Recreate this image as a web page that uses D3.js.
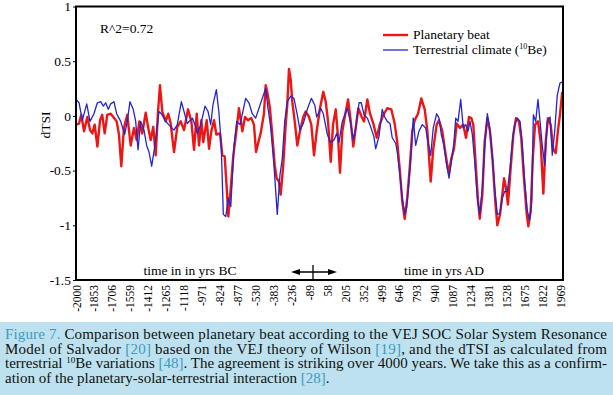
<!DOCTYPE html>
<html><head><meta charset="utf-8">
<script src="https://cdn.jsdelivr.net/npm/d3@7"></script>
<style>body{margin:0;background:#fff;overflow:hidden} svg{display:block}</style>
</head><body>
<svg id="c" width="613" height="395"></svg>
<script>
// ---- data ----
const redYears = [-2000,-1975,-1957,-1934,-1907,-1885,-1866,-1847,-1825,-1803,-1785,-1765,-1744,-1716,-1694,-1667,-1648,-1629,-1607,-1580,-1552,-1525,-1503,-1481,-1457,-1429,-1410,-1388,-1367,-1347,-1328,-1312,-1293,-1265,-1244,-1224,-1197,-1170,-1142,-1115,-1082,-1055,-1033,-1011,-992,-973,-957,-929,-910,-891,-869,-850,-820,-801,-782,-765,-752,-732,-711,-683,-665,-637,-615,-591,-564,-542,-525,-506,-487,-460,-446,-433,-411,-392,-372,-356,-337,-323,-302,-282,-269,-255,-241,-228,-208,-187,-165,-138,-118,-91,-72,-50,-28,-1,26,46,65,87,106,128,147,163,182,202,229,251,272,292,313,341,360,387,409,436,464,491,518,550,583,611,632,654,673,693,714,736,755,775,802,829,857,878,906,927,955,974,1001,1021,1042,1056,1075,1097,1119,1146,1173,1195,1220,1239,1255,1275,1294,1308,1329,1348,1370,1392,1414,1435,1452,1474,1493,1507,1523,1539,1561,1583,1605,1629,1648,1670,1693,1706,1725,1744,1761,1785,1807,1829,1848,1867,1889,1911,1930,1949,1965,1984];
const redValues = [-0.08,-0.07,0.01,-0.14,-0.01,-0.13,-0.16,-0.08,-0.28,-0.04,0.01,-0.16,0.01,0.02,-0.01,-0.05,-0.17,-0.46,-0.11,0.01,-0.27,-0.11,-0.22,-0.05,-0.16,0.03,-0.1,-0.22,-0.1,-0.36,0.04,0.28,0.04,-0.05,0.02,-0.07,-0.33,-0.1,-0.05,-0.13,0.06,-0.05,-0.31,0.02,-0.27,-0.04,-0.24,-0.04,-0.3,-0.14,-0.04,-0.17,-0.16,-0.36,-0.37,-0.66,-0.92,-0.66,-0.36,-0.11,0.07,-0.14,-0.01,-0.04,-0.02,-0.08,-0.33,-0.24,-0.16,0.02,0.28,0.22,0.07,-0.17,-0.45,-0.57,-0.6,-0.72,-0.45,-0.08,0.1,0.43,0.33,0.13,-0.05,-0.27,-0.14,-0.01,0.04,-0.01,-0.08,-0.36,-0.14,0.07,0.22,0.13,-0.05,-0.42,-0.08,0.06,-0.2,-0.52,-0.14,-0.01,0.15,-0.05,-0.28,-0.11,0.07,-0.01,-0.05,0.15,0.02,-0.07,-0.2,-0.07,0.01,0.07,0.06,-0.07,-0.24,-0.51,-0.78,-0.94,-0.75,-0.45,-0.14,-0.04,0.02,0.16,0.06,-0.13,-0.6,-0.3,-0.08,-0.04,-0.14,-0.3,-0.45,-0.52,-0.39,-0.3,-0.07,-0.11,-0.08,-0.2,-0.01,-0.02,-0.08,-0.45,-0.78,-0.94,-0.72,-0.24,-0.02,-0.14,-0.42,-0.78,-1.0,-0.9,-0.72,-0.57,-0.66,-0.81,-0.48,-0.17,-0.02,-0.05,-0.2,-0.57,-0.9,-1.01,-0.87,-0.36,-0.08,-0.05,-0.24,-0.71,-0.24,-0.02,-0.08,-0.31,-0.34,-0.13,0.01,0.22];
const blueYears = [-2000,-1975,-1948,-1912,-1885,-1853,-1825,-1798,-1776,-1757,-1735,-1716,-1689,-1667,-1634,-1601,-1580,-1558,-1531,-1511,-1492,-1470,-1443,-1421,-1402,-1380,-1353,-1320,-1301,-1265,-1224,-1197,-1170,-1137,-1115,-1088,-1047,-1019,-1006,-978,-943,-918,-896,-878,-850,-828,-810,-793,-773,-752,-732,-705,-683,-656,-629,-610,-583,-556,-528,-501,-474,-446,-427,-405,-378,-351,-329,-310,-290,-269,-241,-214,-187,-165,-138,-105,-72,-44,-28,5,26,59,87,114,136,155,182,223,251,272,292,319,337,360,387,414,441,455,482,509,529,550,573,591,619,632,654,673,693,709,728,747,763,783,810,837,865,884,906,927,955,974,993,1015,1037,1056,1075,1097,1111,1130,1152,1173,1193,1212,1228,1247,1267,1288,1308,1329,1351,1370,1389,1411,1430,1452,1474,1493,1512,1534,1556,1575,1594,1616,1638,1657,1676,1698,1717,1734,1747,1766,1785,1802,1820,1840,1861,1884,1902,1922,1943,1965,1984];
const blueValues = [0.15,0.12,-0.04,0.11,-0.05,0.02,0.12,0.13,0.09,0.12,0.06,0.11,0.13,0.02,-0.05,-0.17,-0.05,0.13,0.06,-0.05,-0.31,-0.05,-0.13,-0.27,-0.33,-0.46,-0.27,0.04,0.02,-0.05,-0.1,-0.13,-0.08,0.13,0.04,-0.07,-0.02,-0.1,-0.16,-0.08,0.09,0.04,-0.08,0.1,0.24,0.02,-0.27,-0.9,-0.92,-0.75,-0.83,-0.27,-0.05,-0.08,0.06,0.16,0.12,0.02,-0.02,0.07,0.16,0.25,0.07,-0.1,-0.45,-0.9,-0.54,-0.39,-0.05,0.13,0.18,0.16,0.01,-0.13,-0.07,0.06,0.16,0.1,-0.01,0.07,0.02,-0.17,-0.24,-0.22,-0.16,-0.24,-0.05,0.07,-0.07,-0.22,-0.11,0.12,0.12,0.01,-0.02,-0.1,-0.19,-0.3,-0.19,0.06,-0.01,-0.05,-0.07,-0.2,-0.25,-0.33,-0.54,-0.75,-0.9,-0.84,-0.6,-0.33,-0.02,-0.27,-0.14,-0.08,-0.11,-0.24,-0.36,-0.11,0.02,-0.02,-0.17,-0.27,-0.45,-0.57,-0.42,-0.24,-0.02,-0.05,0.15,-0.11,-0.08,-0.14,-0.05,-0.17,-0.42,-0.75,-0.9,-0.66,-0.24,0.02,-0.11,-0.36,-0.66,-0.9,-0.89,-0.75,-0.69,-0.69,-0.48,-0.24,-0.08,-0.02,-0.05,-0.27,-0.6,-0.87,-0.95,-0.78,0.01,-0.05,0.15,-0.05,-0.27,-0.45,-0.05,-0.01,-0.36,-0.14,0.19,0.3,0.31];
const tickYears = [-2000,-1853,-1706,-1559,-1412,-1265,-1118,-971,-824,-677,-530,-383,-236,-89,58,205,352,499,646,793,940,1087,1234,1381,1528,1675,1822,1969];
const tickLabels = ["-2000","-1853","-1706","-1559","-1412","-1265","-1118","-971","-824","-877","-530","-383","-236","-89","58","205","352","499","646","793","940","1087","1234","1381","1528","1675","1822","1969"];
const yTicks = [1,0.5,0,-0.5,-1,-1.5];
const yTickLabels = ["1","0.5","0","-0.5","-1","-1.5"];
const seriesNames = ["Planetary beat","Terrestrial climate ("];

// ---- chart ----
const FONT = "'Liberation Serif','Times New Roman',serif";
const svg = d3.select("#c");
const L = 76, R = 563, T = 6.5, B = 280;
const x = d3.scaleLinear().domain([-2000, 1990]).range([L, R]);
const y = d3.scaleLinear().domain([-1.5, 1]).range([B, T]);

const line = d3.line().x(d => x(d[0])).y(d => y(d[1]));
const red = d3.zip(redYears, redValues);
const blue = d3.zip(blueYears, blueValues);

svg.append("path").datum(red).attr("d", line)
  .attr("fill","none").attr("stroke","#ee1515").attr("stroke-width",2.4).attr("stroke-linejoin","round");
svg.append("path").datum(blue).attr("d", line)
  .attr("fill","none").attr("stroke","#2424d0").attr("stroke-width",1.3).attr("stroke-linejoin","round");

// frame
svg.append("rect").attr("x",L).attr("y",T).attr("width",R-L).attr("height",B-T)
  .attr("fill","none").attr("stroke","#000").attr("stroke-width",2);

// y axis
const yAxis = d3.axisLeft(y).tickValues(yTicks).tickSize(3).tickFormat((d,i)=>yTickLabels[i]);
const gy = svg.append("g").attr("transform",`translate(${L},0)`).call(yAxis);
gy.select(".domain").remove();
gy.selectAll("text").attr("font-family",FONT).attr("font-size",13.5).attr("fill","#000").attr("x",-5);
gy.selectAll("line").attr("stroke","#000");

// x axis
const xAxis = d3.axisBottom(x).tickValues(tickYears).tickSize(0).tickFormat((d,i)=>tickLabels[i]);
const gx = svg.append("g").attr("transform",`translate(0,${B})`).call(xAxis);
gx.select(".domain").remove();
gx.selectAll("text").attr("font-family",FONT).attr("font-size",11.5).attr("fill","#000")
  .attr("transform","rotate(-90)").attr("text-anchor","end").attr("x",-5).attr("y",0).attr("dy","0.35em");

// y label
svg.append("text").attr("transform","translate(50,125) rotate(-90)").attr("text-anchor","middle")
  .attr("font-family",FONT).attr("font-size",13.5).text("dTSI");

// annotations
svg.append("text").attr("x",100).attr("y",33).attr("font-family",FONT).attr("font-size",13.5).text("R^2=0.72");
svg.append("text").attr("x",190).attr("y",275).attr("text-anchor","middle").attr("font-family",FONT).attr("font-size",13.5).text("time in in yrs BC");
svg.append("text").attr("x",444).attr("y",275).attr("text-anchor","middle").attr("font-family",FONT).attr("font-size",13.5).text("time in yrs AD");

// arrow
const ag = svg.append("g").attr("stroke","#000").attr("stroke-width",1.3);
ag.append("line").attr("x1",297).attr("x2",331).attr("y1",272).attr("y2",272);
ag.append("line").attr("x1",313).attr("x2",313).attr("y1",265).attr("y2",280);
svg.append("path").attr("d","M291,272 L300,269 L300,275 Z").attr("fill","#000");
svg.append("path").attr("d","M337,272 L328,269 L328,275 Z").attr("fill","#000");

// legend
const lg = svg.append("g");
lg.append("line").attr("x1",383).attr("x2",408).attr("y1",35).attr("y2",35).attr("stroke","#ee1515").attr("stroke-width",2.4);
lg.append("line").attr("x1",383).attr("x2",408).attr("y1",50).attr("y2",50).attr("stroke","#2424d0").attr("stroke-width",1.3);
lg.append("text").attr("x",413).attr("y",39).attr("font-family",FONT).attr("font-size",13.5).text(seriesNames[0]);
const t2 = lg.append("text").attr("x",413).attr("y",54).attr("font-family",FONT).attr("font-size",13.5);
t2.append("tspan").text(seriesNames[1]);
t2.append("tspan").attr("font-size",8).attr("dy",-5).text("10");
t2.append("tspan").attr("dy",5).text("Be)");

// caption
svg.append("rect").attr("x",0).attr("y",322).attr("width",613).attr("height",73).attr("fill","#bde1ee");
const teal = "#3d9bbf";
const capLines = [
  [["Figure 7.",teal],[" Comparison between planetary beat according to the VEJ SOC Solar System Resonance"]],
  [["Model of Salvador "],["[20]",teal],[" based on the VEJ theory of Wilson "],["[19]",teal],[", and the dTSI as calculated from"]],
  [["terrestrial "],["10",null,true],["Be variations "],["[48]",teal],[". The agreement is striking over 4000 years. We take this as a confirm-"]],
  [["ation of the planetary-solar-terrestrial interaction "],["[28]",teal],["."]]
];
capLines.forEach((segs,i)=>{
  const t = svg.append("text").attr("x",5).attr("y",339 + i*14.6).attr("font-family",FONT).attr("font-size",15).attr("fill","#111");
  if (i < 3) t.attr("textLength",602).attr("lengthAdjust","spacing");
  segs.forEach(s=>{
    const sp = t.append("tspan").text(s[0]);
    if (s[1]) sp.attr("fill",s[1]);
    if (s[2]) sp.attr("font-size",9).attr("baseline-shift","super");
  });
});
</script>
</body></html>
